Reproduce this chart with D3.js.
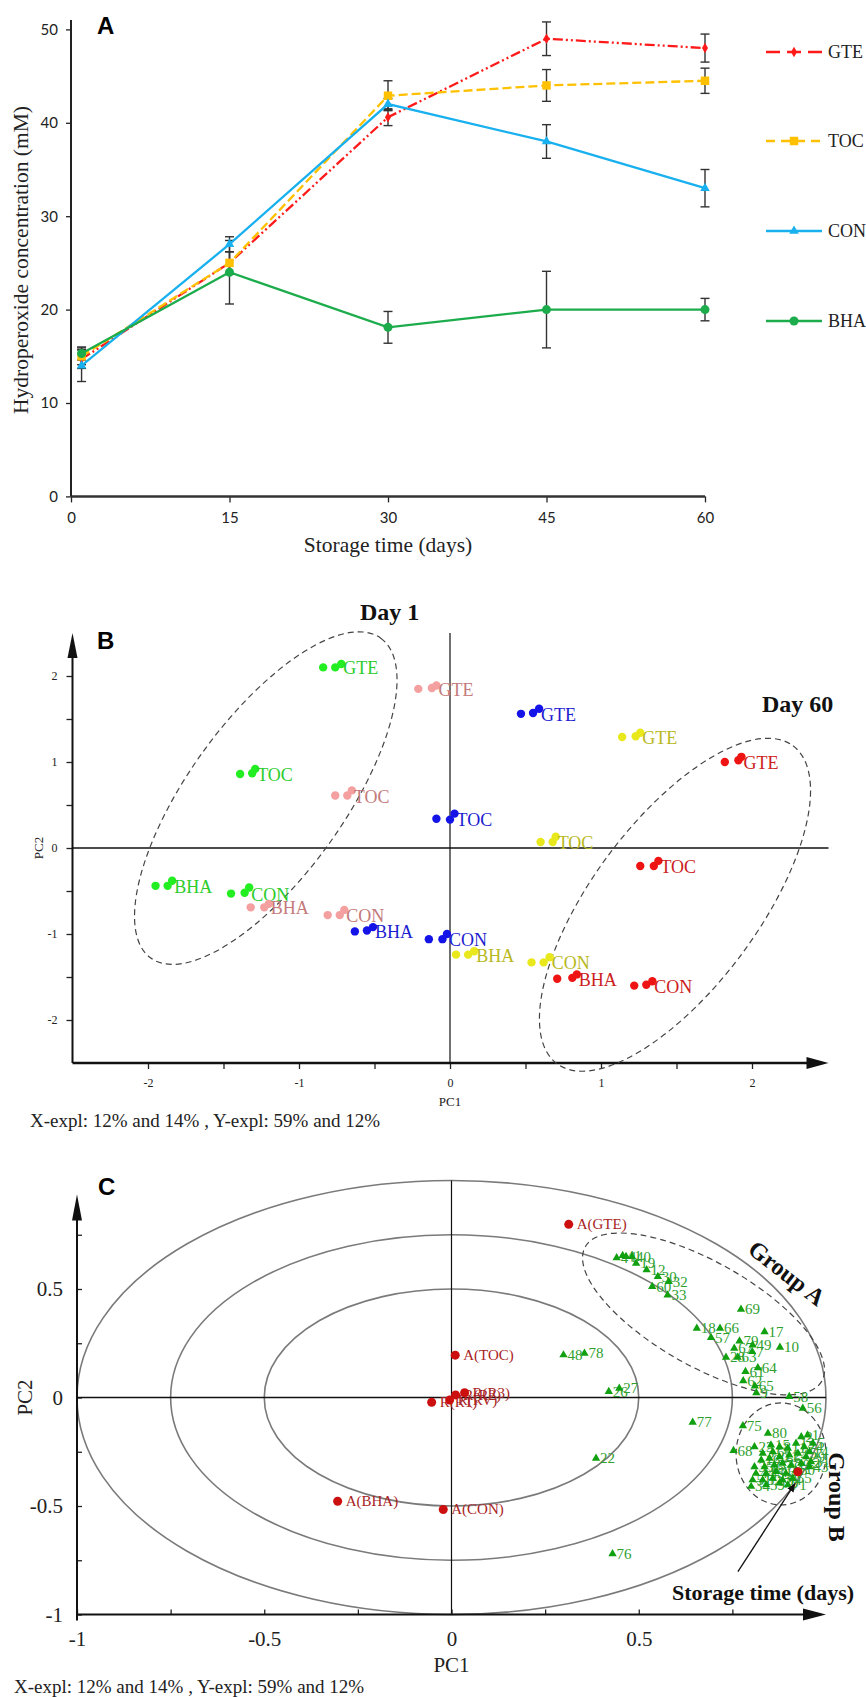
<!DOCTYPE html>
<html>
<head>
<meta charset="utf-8">
<script src="https://cdnjs.cloudflare.com/ajax/libs/d3/7.8.5/d3.min.js"></script>
<style>
body { margin: 0; background: #fff; }
text { font-family: "Liberation Serif", "Times New Roman", serif; }
.panel { font-family: "Liberation Sans", Arial, sans-serif; font-weight: bold; font-size: 24px; }
</style>
</head>
<body>
<div id="chart"></div>
<script>
// ---------- panel A : hydroperoxides ----------
var days = [1, 15, 30, 45, 60];
var gteVals = [14.7, 25, 40.6, 49, 48];
var gteErr = [1.0, 1.2, 0.9, 1.8, 1.5];
var tocVals = [15, 25, 42.9, 44, 44.5];
var tocErr = [0.9, 1.2, 1.6, 1.7, 1.35];
var conVals = [14, 27, 42, 38, 33];
var conErr = [1.7, 0.8, 0.6, 1.8, 2.0];
var bhaVals = [15.3, 24, 18.1, 20, 20];
var bhaErr = [0.7, 3.4, 1.7, 4.1, 1.2];
var xTicksA = [0, 15, 30, 45, 60];
var yTicksA = [0, 10, 20, 30, 40, 50];

// ---------- panel B : PCA scores (3 replicates per group) ----------
var pcaGroups = ["GTE", "TOC", "BHA", "CON"];
var day1X  = [-0.84, -0.76, -0.72, -1.39, -1.31, -1.29, -1.95, -1.87, -1.84, -1.45, -1.36, -1.33];
var day1Y  = [2.10, 2.10, 2.14, 0.86, 0.87, 0.92, -0.44, -0.44, -0.38, -0.53, -0.52, -0.46];
var day15X = [-0.21, -0.12, -0.09, -0.76, -0.68, -0.65, -1.32, -1.23, -1.20, -0.81, -0.73, -0.70];
var day15Y = [1.85, 1.86, 1.89, 0.61, 0.61, 0.67, -0.69, -0.69, -0.65, -0.78, -0.78, -0.72];
var day30X = [0.47, 0.55, 0.59, -0.09, 0.0, 0.03, -0.63, -0.55, -0.51, -0.14, -0.05, -0.02];
var day30Y = [1.56, 1.57, 1.62, 0.34, 0.33, 0.40, -0.97, -0.96, -0.92, -1.06, -1.06, -1.00];
var day45X = [1.14, 1.23, 1.26, 0.60, 0.68, 0.70, 0.04, 0.12, 0.16, 0.54, 0.62, 0.66];
var day45Y = [1.29, 1.30, 1.34, 0.07, 0.07, 0.13, -1.24, -1.24, -1.20, -1.33, -1.33, -1.27];
var day60X = [1.82, 1.91, 1.93, 1.26, 1.35, 1.38, 0.71, 0.81, 0.84, 1.22, 1.30, 1.34];
var day60Y = [1.00, 1.02, 1.06, -0.21, -0.21, -0.15, -1.52, -1.51, -1.47, -1.60, -1.59, -1.55];
var ticksB = [-2, -1.5, -1, -0.5, 0, 0.5, 1, 1.5, 2];

// ---------- panel C : correlation loadings ----------
var loadNames = ["A(GTE)", "A(TOC)", "A(BHA)", "A(CON)", "R(R1)", "R(RV)", "R(R2)", "R(R3)"];
var loadX = [0.313, 0.01, -0.304, -0.022, -0.053, -0.005, 0.011, 0.035];
var loadY = [0.798, 0.195, -0.478, -0.516, -0.022, -0.012, 0.012, 0.022];
var timeLoad = [0.925, -0.342];
var sampleIds = ["4", "41", "1", "40", "19", "12", "30", "32", "60", "33",
  "69", "18", "66", "57", "17", "10", "79", "49", "67", "28", "63", "7", "64", "61", "62", "65", "9",
  "48", "78", "27", "26", "58", "56", "77", "75", "80", "68", "23", "15", "2", "1", "5", "34", "22", "76",
  "3", "6", "8", "11", "13", "74", "14", "16", "20", "21", "24", "25", "29", "31", "35", "36", "37",
  "38", "39", "42", "43", "44", "45", "46", "47", "50", "51", "52", "53", "54", "55", "59", "70", "71"];
var sampleX = [0.441, 0.457, 0.466, 0.482, 0.493, 0.521, 0.551, 0.580, 0.536, 0.577,
  0.773, 0.655, 0.717, 0.693, 0.836, 0.877, 0.769, 0.804, 0.755, 0.733, 0.764, 0.803, 0.818, 0.785, 0.779, 0.81, 0.814,
  0.299, 0.355, 0.448, 0.420, 0.902, 0.938, 0.644, 0.778, 0.845, 0.753, 0.809, 0.853, 0.934, 0.951, 0.965, 0.80, 0.386, 0.43,
  0.831, 0.858, 0.876, 0.898, 0.92, 0.942, 0.956, 0.827, 0.849, 0.876, 0.902, 0.925, 0.947, 0.96, 0.809, 0.836, 0.862,
  0.884, 0.907, 0.934, 0.956, 0.813, 0.84, 0.867, 0.893, 0.92, 0.804, 0.831, 0.858, 0.884, 0.911, 0.84, 0.876, 0.898];
var sampleY = [0.644, 0.654, 0.649, 0.649, 0.618, 0.588, 0.557, 0.534, 0.511, 0.472,
  0.406, 0.319, 0.319, 0.276, 0.303, 0.231, 0.260, 0.242, 0.227, 0.185, 0.185, 0.211, 0.137, 0.119, 0.077, 0.053, 0.022,
  0.196, 0.204, 0.042, 0.027, 0.004, -0.05, -0.114, -0.131, -0.165, -0.245, -0.227, -0.219, -0.181, -0.173, -0.211, -0.41, -0.28, -0.72,
  -0.257, -0.25, -0.227, -0.234, -0.211, -0.227, -0.25, -0.288, -0.28, -0.273, -0.265, -0.257, -0.273, -0.296, -0.319, -0.319, -0.311,
  -0.303, -0.311, -0.303, -0.319, -0.35, -0.35, -0.342, -0.35, -0.334, -0.38, -0.38, -0.372, -0.38, -0.372, -0.403, -0.395, -0.403];
var circleRadii = [0.5, 0.75, 1];
var ticksC = [-1, -0.75, -0.5, -0.25, 0, 0.25, 0.5, 0.75];

var svg = d3.select("#chart").append("svg")
    .attr("width", 866)
    .attr("height", 1697);

svg.append("rect").attr("width", 866).attr("height", 1697).attr("fill", "#fff");

function styleAxis(g, size, font) {
    g.select(".domain").remove();
    g.selectAll(".tick line").attr("stroke", "#222").attr("stroke-width", 1.3);
    g.selectAll(".tick text").attr("fill", "#222").style("font-size", size + "px")
        .style("font-family", font || "'Liberation Serif', serif");
}

/* ===================== A ===================== */
var xA = d3.scaleLinear().domain([0, 60]).range([71, 705]);
var yA = d3.scaleLinear().domain([0, 50]).range([496.4, 29.4]);
var gA = svg.append("g");

gA.append("g").attr("transform", "translate(0," + yA(0) + ")")
    .call(d3.axisBottom(xA).tickValues(xTicksA).tickSize(6).tickPadding(10).tickFormat(String))
    .call(styleAxis, 15, "Lato, 'Liberation Sans', sans-serif");
gA.append("g").attr("transform", "translate(" + xA(0) + ",0)")
    .call(d3.axisLeft(yA).tickValues(yTicksA).tickSize(5).tickPadding(8).tickFormat(String))
    .call(styleAxis, 15, "Lato, 'Liberation Sans', sans-serif");
gA.append("line").attr("x1", xA(0)).attr("x2", xA(60)).attr("y1", yA(0)).attr("y2", yA(0))
    .attr("stroke", "#333").attr("stroke-width", 2.5);
gA.append("line").attr("x1", xA(0)).attr("x2", xA(0)).attr("y1", yA(0)).attr("y2", yA(51))
    .attr("stroke", "#222").attr("stroke-width", 2);

gA.append("text").attr("x", 388).attr("y", 552).attr("text-anchor", "middle")
    .style("font-size", "21.5px").attr("fill", "#222").text("Storage time (days)");
gA.append("text").attr("transform", "translate(28,260) rotate(-90)").attr("text-anchor", "middle")
    .style("font-size", "21.5px").attr("fill", "#222").text("Hydroperoxide concentration (mM)");
gA.append("text").attr("class", "panel").attr("x", 97).attr("y", 34).text("A");

var seriesA = [
    {name: "GTE", vals: gteVals, err: gteErr, color: "#ff1a1a", dash: "10,3,2,3,2,3", legDash: "14,7", sym: d3.symbolDiamond, size: 32},
    {name: "TOC", vals: tocVals, err: tocErr, color: "#ffc000", dash: "9,4", legDash: "9,6", sym: d3.symbolSquare, size: 72},
    {name: "CON", vals: conVals, err: conErr, color: "#18b0ee", dash: null, legDash: null, sym: d3.symbolTriangle, size: 40},
    {name: "BHA", vals: bhaVals, err: bhaErr, color: "#1cac4c", dash: null, legDash: null, sym: d3.symbolCircle, size: 64}
];
var lineA = d3.line().x(function(d, i) { return xA(days[i]); }).y(function(d) { return yA(d); });

seriesA.forEach(function(s) {
    var eb = gA.append("g").attr("stroke", "#333").attr("stroke-width", 1.4);
    s.vals.forEach(function(v, i) {
        var x = xA(days[i]);
        eb.append("line").attr("x1", x).attr("x2", x).attr("y1", yA(v - s.err[i])).attr("y2", yA(v + s.err[i]));
        eb.append("line").attr("x1", x - 4.5).attr("x2", x + 4.5).attr("y1", yA(v - s.err[i])).attr("y2", yA(v - s.err[i]));
        eb.append("line").attr("x1", x - 4.5).attr("x2", x + 4.5).attr("y1", yA(v + s.err[i])).attr("y2", yA(v + s.err[i]));
    });
});
seriesA.forEach(function(s) {
    gA.append("path").attr("d", lineA(s.vals)).attr("fill", "none")
        .attr("stroke", s.color).attr("stroke-width", 2.3)
        .attr("stroke-dasharray", s.dash);
    gA.selectAll(null).data(s.vals).enter().append("path")
        .attr("d", d3.symbol().type(s.sym).size(s.size))
        .attr("transform", function(d, i) { return "translate(" + xA(days[i]) + "," + yA(d) + ")"; })
        .attr("fill", s.color);
});

// legend
var legY = [52, 141, 231, 321];
seriesA.forEach(function(s, i) {
    var lg = gA.append("g").attr("transform", "translate(0," + legY[i] + ")");
    lg.append("line").attr("x1", 766).attr("x2", 822).attr("stroke", s.color)
        .attr("stroke-width", 2.3).attr("stroke-dasharray", s.legDash);
    lg.append("path").attr("d", d3.symbol().type(s.sym).size(s.size)).attr("transform", "translate(794,0)").attr("fill", s.color);
    lg.append("text").attr("x", 828).attr("y", 6).style("font-size", "18px").attr("fill", "#222").text(s.name);
});

/* ===================== B ===================== */
var xB = d3.scaleLinear().domain([-2.5, 2.5]).range([72.5, 827.5]);
var yB = d3.scaleLinear().domain([-2.5, 2.5]).range([1063, 633]);
var gB = svg.append("g");

gB.append("g").attr("transform", "translate(0," + yB(-2.5) + ")")
    .call(d3.axisBottom(xB).tickValues(ticksB).tickSize(6).tickPadding(9)
        .tickFormat(function(d) { return d % 1 === 0 ? String(d) : ""; }))
    .call(styleAxis, 12);
gB.append("g").attr("transform", "translate(" + xB(-2.5) + ",0)")
    .call(d3.axisLeft(yB).tickValues(ticksB).tickSize(6).tickPadding(9)
        .tickFormat(function(d) { return d % 1 === 0 ? String(d) : ""; }))
    .call(styleAxis, 12);

// axes with arrows and zero lines
var bx0 = xB(-2.5), bx1 = xB(2.5) + 1, by0 = yB(-2.5), by1 = yB(2.5);
gB.append("line").attr("x1", bx0).attr("x2", bx1 - 10).attr("y1", by0).attr("y2", by0).attr("stroke", "#111").attr("stroke-width", 2.4);
gB.append("line").attr("x1", bx0).attr("x2", bx0).attr("y1", by0).attr("y2", by1 + 10).attr("stroke", "#111").attr("stroke-width", 2);
gB.append("path").attr("d", "M" + bx1 + "," + by0 + "L" + (bx1 - 22) + "," + (by0 - 6) + "L" + (bx1 - 22) + "," + (by0 + 6) + "Z").attr("fill", "#111");
gB.append("path").attr("d", "M" + bx0 + "," + by1 + "L" + (bx0 - 5) + "," + (by1 + 25) + "L" + (bx0 + 5) + "," + (by1 + 25) + "Z").attr("fill", "#111");
gB.append("line").attr("x1", bx0).attr("x2", bx1).attr("y1", yB(0)).attr("y2", yB(0)).attr("stroke", "#111").attr("stroke-width", 1.6);
gB.append("line").attr("x1", xB(0)).attr("x2", xB(0)).attr("y1", by0).attr("y2", by1).attr("stroke", "#111").attr("stroke-width", 1.2);

gB.append("text").attr("x", xB(0)).attr("y", 1106).attr("text-anchor", "middle").style("font-size", "13px").attr("fill", "#222").text("PC1");
gB.append("text").attr("transform", "translate(43," + yB(0) + ") rotate(-90)").attr("text-anchor", "middle").style("font-size", "13px").attr("fill", "#222").text("PC2");
gB.append("text").attr("class", "panel").attr("x", 97).attr("y", 649).text("B");
gB.append("text").attr("x", 360).attr("y", 620).style("font-size", "24px").style("font-weight", "bold").attr("fill", "#111").text("Day 1");
gB.append("text").attr("x", 762).attr("y", 712).style("font-size", "24px").style("font-weight", "bold").attr("fill", "#111").text("Day 60");

// dashed ellipses around day 1 and day 60
var ellB = [
    {cx: -1.22, cy: 0.58, rx: 197, ry: 78, rot: -54.3},
    {cx: 1.49, cy: -0.66, rx: 198, ry: 83, rot: -53.4}
];
ellB.forEach(function(e) {
    gB.append("ellipse").attr("rx", e.rx).attr("ry", e.ry)
        .attr("transform", "translate(" + xB(e.cx) + "," + yB(e.cy) + ") rotate(" + e.rot + ")")
        .attr("fill", "none").attr("stroke", "#444").attr("stroke-width", 1.2).attr("stroke-dasharray", "6,4");
});

var daySets = [
    {xs: day1X, ys: day1Y, dot: "#22ee22", lab: "#2ccc2c"},
    {xs: day15X, ys: day15Y, dot: "#f4a0a0", lab: "#c47a7a"},
    {xs: day30X, ys: day30Y, dot: "#1414e8", lab: "#1c1cd0"},
    {xs: day45X, ys: day45Y, dot: "#e8e81c", lab: "#b8b822"},
    {xs: day60X, ys: day60Y, dot: "#ee1414", lab: "#cc2020"}
];
daySets.forEach(function(ds) {
    gB.selectAll(null).data(ds.xs).enter().append("circle")
        .attr("cx", function(d) { return xB(d); })
        .attr("cy", function(d, i) { return yB(ds.ys[i]); })
        .attr("r", 4.2).attr("fill", ds.dot);
    pcaGroups.forEach(function(name, k) {
        gB.append("text")
            .attr("x", xB(ds.xs[k * 3 + 2]) + 2)
            .attr("y", yB(ds.ys[k * 3]) + 7)
            .style("font-size", "18px").attr("fill", ds.lab).text(name);
    });
});

svg.append("text").attr("x", 30).attr("y", 1127).style("font-size", "19px").attr("fill", "#222")
    .text("X-expl: 12% and 14% , Y-expl: 59% and 12%");

/* ===================== C ===================== */
var xC = d3.scaleLinear().domain([-1, 1]).range([77, 826]);
var yC = d3.scaleLinear().domain([-1, 1]).range([1614.5, 1180.5]);
var gC = svg.append("g");

circleRadii.forEach(function(r) {
    gC.append("ellipse").attr("cx", xC(0)).attr("cy", yC(0))
        .attr("rx", xC(r) - xC(0)).attr("ry", yC(0) - yC(r))
        .attr("fill", "none").attr("stroke", "#7a7a7a").attr("stroke-width", 1.6);
});

gC.append("g").attr("transform", "translate(0," + yC(-1) + ")")
    .call(d3.axisBottom(xC).tickValues(ticksC).tickSize(-5).tickPadding(17)
        .tickFormat(function(d) { return d % 0.5 === 0 ? String(d) : ""; }))
    .call(styleAxis, 21);
gC.append("g").attr("transform", "translate(" + xC(-1) + ",0)")
    .call(d3.axisLeft(yC).tickValues(ticksC).tickSize(-5).tickPadding(14)
        .tickFormat(function(d) { return d % 0.5 === 0 ? String(d) : ""; }))
    .call(styleAxis, 21);

var cx0 = xC(-1), cx1 = xC(1), cy0 = yC(-1), cy1 = yC(1) + 14;
gC.append("line").attr("x1", cx0).attr("x2", cx1 - 10).attr("y1", cy0).attr("y2", cy0).attr("stroke", "#111").attr("stroke-width", 2);
gC.append("line").attr("x1", cx0).attr("x2", cx0).attr("y1", cy0 + 6).attr("y2", cy1 + 10).attr("stroke", "#111").attr("stroke-width", 2);
gC.append("path").attr("d", "M" + cx1 + "," + cy0 + "L" + (cx1 - 23) + "," + (cy0 - 6) + "L" + (cx1 - 23) + "," + (cy0 + 6) + "Z").attr("fill", "#111");
gC.append("path").attr("d", "M" + cx0 + "," + cy1 + "L" + (cx0 - 5) + "," + (cy1 + 26) + "L" + (cx0 + 5) + "," + (cy1 + 26) + "Z").attr("fill", "#111");
gC.append("line").attr("x1", cx0).attr("x2", cx1).attr("y1", yC(0)).attr("y2", yC(0)).attr("stroke", "#111").attr("stroke-width", 1.6);
gC.append("line").attr("x1", xC(0)).attr("x2", xC(0)).attr("y1", yC(-1)).attr("y2", yC(1)).attr("stroke", "#111").attr("stroke-width", 1.2);

gC.append("text").attr("x", xC(0)).attr("y", 1672).attr("text-anchor", "middle").style("font-size", "21px").attr("fill", "#222").text("PC1");
gC.append("text").attr("transform", "translate(32," + yC(0) + ") rotate(-90)").attr("text-anchor", "middle").style("font-size", "21px").attr("fill", "#222").text("PC2");
gC.append("text").attr("class", "panel").attr("x", 98).attr("y", 1195).text("C");

// group outlines
gC.append("ellipse").attr("rx", 136).attr("ry", 52)
    .attr("transform", "translate(" + xC(0.673) + "," + yC(0.385) + ") rotate(29.6)")
    .attr("fill", "none").attr("stroke", "#444").attr("stroke-width", 1.2).attr("stroke-dasharray", "6,4");
gC.append("ellipse").attr("rx", 45).attr("ry", 51)
    .attr("transform", "translate(" + xC(0.88) + "," + yC(-0.26) + ")")
    .attr("fill", "none").attr("stroke", "#444").attr("stroke-width", 1.2).attr("stroke-dasharray", "6,4");

// samples (green triangles)
gC.selectAll(null).data(sampleX).enter().append("text")
    .attr("x", function(d) { return xC(d) + 4; })
    .attr("y", function(d, i) { return yC(sampleY[i]) + 5; })
    .style("font-size", "15px").attr("fill", "#2f9f2f")
    .text(function(d, i) { return sampleIds[i]; });
gC.selectAll(null).data(sampleX).enter().append("path")
    .attr("d", d3.symbol().type(d3.symbolTriangle).size(30))
    .attr("transform", function(d, i) { return "translate(" + xC(d) + "," + yC(sampleY[i]) + ")"; })
    .attr("fill", "#10a010");

// loadings (red dots)
gC.selectAll(null).data(loadX).enter().append("text")
    .attr("x", function(d) { return xC(d) + 8; })
    .attr("y", function(d, i) { return yC(loadY[i]) + 5; })
    .style("font-size", "15px").attr("fill", "#a82424")
    .text(function(d, i) { return loadNames[i]; });
gC.selectAll(null).data(loadX).enter().append("circle")
    .attr("cx", function(d) { return xC(d); })
    .attr("cy", function(d, i) { return yC(loadY[i]); })
    .attr("r", 4.5).attr("fill", "#cc1010");
gC.append("circle").attr("cx", xC(timeLoad[0])).attr("cy", yC(timeLoad[1])).attr("r", 4.5).attr("fill", "#cc1010");

// annotations
svg.append("defs").append("marker").attr("id", "arr").attr("viewBox", "0 0 10 10")
    .attr("refX", 9).attr("refY", 5).attr("markerWidth", 7).attr("markerHeight", 7).attr("orient", "auto")
    .append("path").attr("d", "M0,1L10,5L0,9Z").attr("fill", "#111");
var tipX = xC(timeLoad[0]) - 3, tipY = yC(timeLoad[1]) + 12;
gC.append("line").attr("x1", tipX - 57).attr("y1", tipY + 88).attr("x2", tipX).attr("y2", tipY)
    .attr("stroke", "#111").attr("stroke-width", 1.3).attr("marker-end", "url(#arr)");
gC.append("text").attr("x", 763).attr("y", 1600).attr("text-anchor", "middle")
    .style("font-size", "22px").style("font-weight", "bold").attr("fill", "#111").text("Storage time (days)");
gC.append("text").attr("transform", "translate(787,1273) rotate(38)").attr("text-anchor", "middle").attr("dy", "0.35em")
    .style("font-size", "24px").style("font-weight", "bold").attr("fill", "#111").text("Group A");
gC.append("text").attr("transform", "translate(837,1497) rotate(90)").attr("text-anchor", "middle").attr("dy", "0.35em")
    .style("font-size", "24px").style("font-weight", "bold").attr("fill", "#111").text("Group B");

svg.append("text").attr("x", 14).attr("y", 1693).style("font-size", "19px").attr("fill", "#222")
    .text("X-expl: 12% and 14% , Y-expl: 59% and 12%");
</script>
</body>
</html>
